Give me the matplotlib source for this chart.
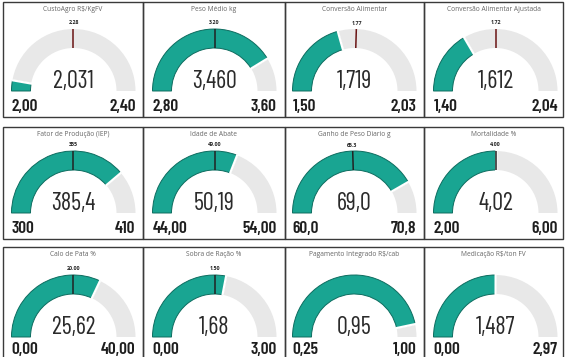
import matplotlib
matplotlib.use("Agg")
import matplotlib.pyplot as plt
from matplotlib.patches import Wedge, Rectangle
import numpy as np
import logging
logging.getLogger("matplotlib.font_manager").setLevel(logging.ERROR)

# ---------------- data ----------------
titles = ["CustoAgro R$/KgFV", "Peso Médio kg", "Conversão Alimentar",
          "Conversão Alimentar Ajustada", "Fator de Produção (IEP)", "Idade de Abate",
          "Ganho de Peso Diario g", "Mortalidade %", "Calo de Pata %",
          "Sobra de Ração %", "Pagamento Integrado R$/cab", "Medicação R$/ton FV"]
values = [2.031, 3.460, 1.719, 1.612, 385.4, 50.19, 69.0, 4.02, 25.62, 1.68, 0.95, 1.487]
value_labels = ["2,031", "3,460", "1,719", "1,612", "385,4", "50,19", "69,0", "4,02",
                "25,62", "1,68", "0,95", "1,487"]
scale_min = [2.00, 2.80, 1.50, 1.40, 300, 44.0, 60.0, 2.00, 0.0, 0.0, 0.25, 0.0]
scale_max = [2.56, 3.60, 2.03, 2.04, 410, 54.0, 70.8, 6.00, 40.0, 3.00, 1.00, 2.97]
min_labels = ["2,00", "2,80", "1,50", "1,40", "300", "44,00", "60,0", "2,00",
              "0,00", "0,00", "0,25", "0,00"]
max_labels = ["2,40", "3,60", "2,03", "2,04", "410", "54,00", "70,8", "6,00",
              "40,00", "3,00", "1,00", "2,97"]
targets = [2.28, 3.20, 1.77, 1.72, 355, 49.00, 65.3, 4.00, 20.00, 1.50, None, None]
target_labels = ["2.28", "3.20", "1.77", "1.72", "355", "49.00", "65.3", "4.00",
                 "20.00", "1.50", None, None]

# ---------------- layout (pixels) ----------------
W, H = 567, 357
col_bounds = [(3, 143), (143, 285), (285, 424), (424, 563)]
col_cx = [73.5, 214.5, 354.5, 495.5]
row_bounds = [(2, 117), (127, 239), (247, 358)]
row_cy = [91, 213, 337]
R_OUT, R_IN = 62, 43

TEAL = "#19a592"
TEAL_EDGE = "#0e6d60"
GREY = "#e8e8e8"

VAL_FONT = ["Barlow Condensed", "IBM Plex Sans Condensed", "DejaVu Sans"]
LBL_FONT = ["Barlow Condensed", "IBM Plex Sans Condensed", "DejaVu Sans"]
TTL_FONT = ["Open Sans", "DejaVu Sans"]

fig = plt.figure(figsize=(W / 100, H / 100), dpi=100)
ax = fig.add_axes([0, 0, 1, 1])
ax.set_xlim(0, W)
ax.set_ylim(H, 0)
ax.axis("off")


def angle(v, lo, hi):
    f = (v - lo) / (hi - lo)
    f = min(max(f, 0.0), 1.0)
    return 180 + 180 * f  # y axis inverted: 180 -> left, 270 -> top, 360 -> right


for i in range(12):
    r, c = divmod(i, 4)
    x0, x1 = col_bounds[c]
    y0, y1 = row_bounds[r]
    cx, cy = col_cx[c], row_cy[r]

    ax.add_patch(Rectangle((x0, y0), x1 - x0, y1 - y0, fill=False,
                           edgecolor="#3a3a3a", lw=1.0, zorder=1))

    # background arc
    ax.add_patch(Wedge((cx, cy), R_OUT, 180, 360, width=R_OUT - R_IN,
                       facecolor=GREY, edgecolor="none", zorder=2))
    # value arc
    th = angle(values[i], scale_min[i], scale_max[i])
    ax.add_patch(Wedge((cx, cy), R_OUT, 180, th, width=R_OUT - R_IN,
                       facecolor=TEAL, edgecolor=TEAL_EDGE, lw=0.7, zorder=3))
    if th < 359.5:
        t = np.deg2rad(th)
        ax.plot([cx + (R_IN - 1) * np.cos(t), cx + (R_OUT + 1) * np.cos(t)],
                [cy + (R_IN - 1) * np.sin(t), cy + (R_OUT + 1) * np.sin(t)],
                color="white", lw=1.6, zorder=4, solid_capstyle="butt")

    # target
    if targets[i] is not None:
        tt = np.deg2rad(angle(targets[i], scale_min[i], scale_max[i]))
        on_teal = targets[i] <= values[i]
        ax.plot([cx + R_IN * np.cos(tt), cx + R_OUT * np.cos(tt)],
                [cy + R_IN * np.sin(tt), cy + R_OUT * np.sin(tt)],
                color="#222222" if on_teal else "#6a1414", lw=1.1, zorder=5,
                solid_capstyle="butt")
        ax.text(cx + (R_OUT + 6) * np.cos(tt), cy + (R_OUT + 6) * np.sin(tt),
                target_labels[i], ha="center", va="center", fontsize=3.8,
                fontweight="bold", color="#222222", family=TTL_FONT, zorder=6)

    # title
    ax.text((x0 + x1) / 2, y0 + 7.5, titles[i], ha="center", va="center",
            fontsize=4.8, color="#666666", family=TTL_FONT, zorder=6)
    # value
    ax.text(cx, cy - 3, value_labels[i], ha="center", va="baseline",
            fontsize=17.5, fontweight="normal", color="#2a2a2a", family=VAL_FONT, zorder=6)
    # min / max
    yb = min(cy + 20, H - 2.5)
    ax.text(cx - R_OUT, yb, min_labels[i], ha="left", va="baseline",
            fontsize=12.5, fontweight="semibold", color="#1e1e1e", family=LBL_FONT, zorder=6)
    ax.text(cx + R_OUT, yb, max_labels[i], ha="right", va="baseline",
            fontsize=12.5, fontweight="semibold", color="#1e1e1e", family=LBL_FONT, zorder=6)

fig.savefig("out.png", dpi=100)
